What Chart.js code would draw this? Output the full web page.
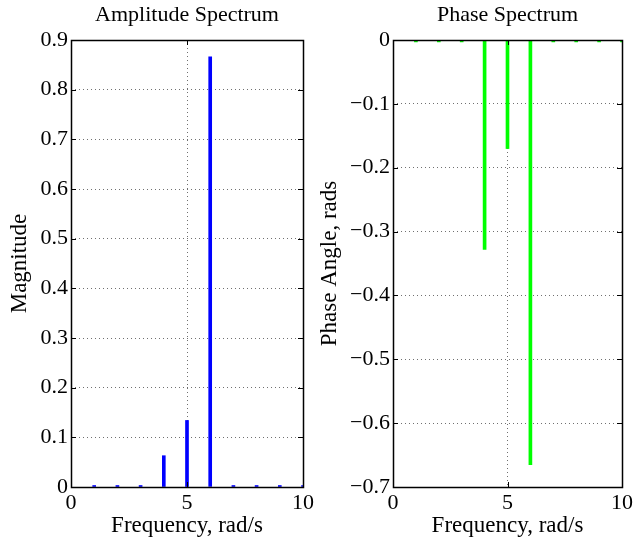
<!DOCTYPE html>
<html><head><meta charset="utf-8">
<script src="https://cdn.jsdelivr.net/npm/chart.js@4.4.1/dist/chart.umd.min.js"></script>
<style>
html,body{margin:0;padding:0;background:#fff;}
#wrap{position:relative;width:636px;height:541px;}
</style></head><body>
<div id="wrap">
<div style="position:absolute;left:0;top:0;width:318px;height:541px;"><canvas id="c1"></canvas></div>
<div style="position:absolute;left:318px;top:0;width:318px;height:541px;"><canvas id="c2"></canvas></div>
</div>
<script>
const frequencies = [1, 2, 3, 4, 5, 6, 7, 8, 9, 10];
const magnitudes  = [0.003, 0.003, 0.003, 0.063, 0.134, 0.866, 0.003, 0.003, 0.003, 0.003];
const phases      = [-0.003, -0.003, -0.003, -0.328, -0.170, -0.665, -0.003, -0.003, -0.003, -0.003];
const xTicks = [0, 5, 10];
const magTicks = [0, 0.1, 0.2, 0.3, 0.4, 0.5, 0.6, 0.7, 0.8, 0.9];
const phaseTicks = [-0.7, -0.6, -0.5, -0.4, -0.3, -0.2, -0.1, 0];

const FONT = "'Liberation Serif', 'Times New Roman', serif";
Chart.defaults.font.family = FONT;
Chart.defaults.color = '#000';

const boxPlugin = {
  id: 'box',
  afterDraw(chart) {
    const ctx = chart.ctx, a = chart.chartArea;
    const xs = chart.scales.x, ys = chart.scales.y;
    ctx.save();
    ctx.strokeStyle = '#000';
    ctx.lineWidth = 1;
    ctx.setLineDash([]);
    const L = 5;
    ctx.beginPath();
    xs.ticks.forEach(t => {
      const px = Math.round(xs.getPixelForValue(t.value)) + 0.5;
      ctx.moveTo(px, a.bottom); ctx.lineTo(px, a.bottom - L);
      ctx.moveTo(px, a.top); ctx.lineTo(px, a.top + L);
    });
    ys.ticks.forEach(t => {
      const py = Math.round(ys.getPixelForValue(t.value)) + 0.5;
      ctx.moveTo(a.left, py); ctx.lineTo(a.left + L, py);
      ctx.moveTo(a.right, py); ctx.lineTo(a.right - L, py);
    });
    ctx.stroke();
    ctx.lineWidth = 1.5;
    ctx.strokeRect(Math.round(a.left) + 0.5, Math.round(a.top) + 0.5, Math.round(a.right - a.left), Math.round(a.bottom - a.top));
    // title centred over plot area
    const t = chart.options.plugins.plotTitle.text;
    ctx.fillStyle = '#000';
    ctx.font = "22px " + FONT;
    ctx.textAlign = 'center';
    ctx.textBaseline = 'middle';
    ctx.fillText(t, (a.left + a.right) / 2, 15);
    ctx.restore();
  }
};

function fmt(v) {
  if (Math.abs(v) < 1e-9) return '0';
  return v.toFixed(1).replace('-', '\u2212');
}

function makeChart(id, values, color, yTicks, yMin, yMax, title, yTitle, leftW, rightPad, yTitlePad) {
  return new Chart(document.getElementById(id), {
    type: 'bar',
    data: {
      datasets: [{
        data: frequencies.map((f, i) => ({x: f, y: values[i]})),
        backgroundColor: color,
        borderWidth: 0,
        barThickness: 3
      }]
    },
    options: {
      responsive: true,
      maintainAspectRatio: false,
      animation: false,
      layout: {padding: {left: 0, right: rightPad, top: 40, bottom: 0}},
      plugins: {
        legend: {display: false},
        tooltip: {enabled: false},
        title: {display: false},
        plotTitle: {text: title}
      },
      scales: {
        x: {
          type: 'linear', min: 0, max: 10, offset: false,
          afterBuildTicks(s) { s.ticks = xTicks.map(v => ({value: v})); },
          afterFit(s) { s.height = 54; },
          grid: {
            offset: false,
            color: c => (c.tick && c.tick.value === 5) ? '#707070' : 'rgba(0,0,0,0)',
            lineWidth: 1, drawTicks: false, tickLength: 0
          },
          border: {display: false, dash: [1, 3]},
          ticks: {font: {size: 22, family: FONT, lineHeight: 1.2}, padding: 3, maxRotation: 0, autoSkip: false,
                  callback: v => String(v)},
          title: {display: true, text: 'Frequency, rad/s', font: {size: 23, family: FONT, lineHeight: 1},
                  padding: {top: 0, bottom: 4}}
        },
        y: {
          type: 'linear', min: yMin, max: yMax,
          afterBuildTicks(s) { s.ticks = yTicks.map(v => ({value: v})); },
          afterFit(s) { s.width = leftW; },
          grid: {
            color: '#707070', lineWidth: 1, drawTicks: false, tickLength: 0
          },
          border: {display: false, dash: [1, 3]},
          ticks: {font: {size: 22, family: FONT}, padding: 3, autoSkip: false,
                  callback: v => fmt(v)},
          title: {display: true, text: yTitle, font: {size: 23, family: FONT, lineHeight: 1},
                  padding: {top: yTitlePad, bottom: 0}}
        }
      }
    },
    plugins: [boxPlugin]
  });
}

makeChart('c1', magnitudes, '#0000ff', magTicks, 0, 0.9,
  'Amplitude Spectrum', 'Magnitude', 71, 15, 8);
makeChart('c2', phases, '#00ff00', phaseTicks, -0.7, 0,
  'Phase Spectrum', 'Phase Angle, rads', 75, 11, 0);
</script>
</body></html>
